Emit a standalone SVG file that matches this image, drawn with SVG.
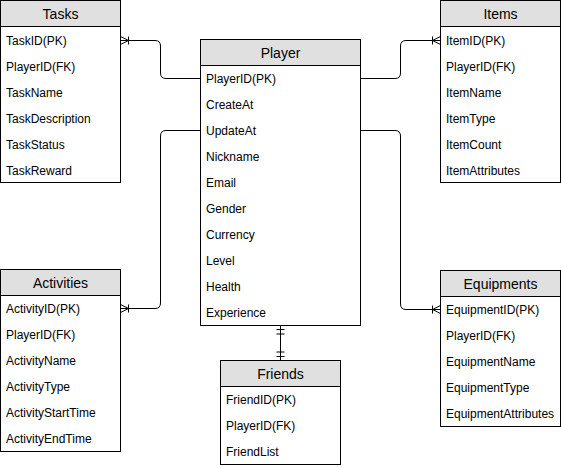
<svg xmlns="http://www.w3.org/2000/svg" width="561" height="468" viewBox="0 0 561 468">
<style>
.box{fill:#ffffff;stroke:#000000;stroke-width:1}
.hd{fill:#e0e0e0;stroke:#000000;stroke-width:1}
.t{font-family:"Liberation Sans",Arial,sans-serif;font-size:14px;fill:#000;text-anchor:middle}
.r{font-family:"Liberation Sans",Arial,sans-serif;font-size:12px;fill:#000}
.c{fill:none;stroke:#000;stroke-width:1}
</style>
<defs>
<marker id="many" markerWidth="12" markerHeight="12" refX="10" refY="6" orient="auto-start-reverse" markerUnits="userSpaceOnUse" viewBox="0 0 12 12">
<path d="M10,2 L2,6 L10,10 M2,2 L2,10" fill="none" stroke="#000" stroke-width="1"/>
</marker>
<marker id="one" markerWidth="12" markerHeight="12" refX="10" refY="6" orient="auto-start-reverse" markerUnits="userSpaceOnUse" viewBox="0 0 12 12">
<path d="M6,2 L6,10 M1.5,2 L1.5,10" fill="none" stroke="#000" stroke-width="1"/>
</marker>
</defs>
<g id="connectors">
<path class="c" d="M200.5,78.5 H166 Q160.5,78.5 160.5,73 V46 Q160.5,40.5 155,40.5 H120.5" marker-end="url(#many)"/>
<path class="c" d="M360.5,78.5 H395 Q400.5,78.5 400.5,73 V46 Q400.5,40.5 406,40.5 H440.5" marker-end="url(#many)"/>
<path class="c" d="M200.5,130.5 H166 Q160.5,130.5 160.5,136 V303 Q160.5,308.5 155,308.5 H120.5" marker-end="url(#many)"/>
<path class="c" d="M360.5,130.5 H395 Q400.5,130.5 400.5,136 V304 Q400.5,309.5 406,309.5 H440.5" marker-end="url(#many)"/>
<path class="c" d="M280.5,325.5 V360.5" marker-start="url(#one)" marker-end="url(#one)"/>
</g>
<g id="tasks">
<rect class="box" x="0.5" y="0.5" width="120" height="182"/>
<rect class="hd" x="0.5" y="0.5" width="120" height="26"/>
<text class="t" x="60.5" y="18.5">Tasks</text>
<text class="r" x="6" y="44.5">TaskID(PK)</text>
<text class="r" x="6" y="70.5">PlayerID(FK)</text>
<text class="r" x="6" y="96.5">TaskName</text>
<text class="r" x="6" y="122.5">TaskDescription</text>
<text class="r" x="6" y="148.5">TaskStatus</text>
<text class="r" x="6" y="174.5">TaskReward</text>
</g>
<g id="items">
<rect class="box" x="440.5" y="0.5" width="120" height="182"/>
<rect class="hd" x="440.5" y="0.5" width="120" height="26"/>
<text class="t" x="500.5" y="18.5">Items</text>
<text class="r" x="446" y="44.5">ItemID(PK)</text>
<text class="r" x="446" y="70.5">PlayerID(FK)</text>
<text class="r" x="446" y="96.5">ItemName</text>
<text class="r" x="446" y="122.5">ItemType</text>
<text class="r" x="446" y="148.5">ItemCount</text>
<text class="r" x="446" y="174.5">ItemAttributes</text>
</g>
<g id="player">
<rect class="box" x="200.5" y="39.5" width="160" height="286"/>
<rect class="hd" x="200.5" y="39.5" width="160" height="26"/>
<text class="t" x="280.5" y="57.5">Player</text>
<text class="r" x="206" y="82.5">PlayerID(PK)</text>
<text class="r" x="206" y="108.5">CreateAt</text>
<text class="r" x="206" y="134.5">UpdateAt</text>
<text class="r" x="206" y="160.5">Nickname</text>
<text class="r" x="206" y="186.5">Email</text>
<text class="r" x="206" y="212.5">Gender</text>
<text class="r" x="206" y="238.5">Currency</text>
<text class="r" x="206" y="264.5">Level</text>
<text class="r" x="206" y="290.5">Health</text>
<text class="r" x="206" y="316.5">Experience</text>
</g>
<g id="activities">
<rect class="box" x="0.5" y="269.5" width="120" height="182"/>
<rect class="hd" x="0.5" y="269.5" width="120" height="26"/>
<text class="t" x="60.5" y="287.5">Activities</text>
<text class="r" x="6" y="312.5">ActivityID(PK)</text>
<text class="r" x="6" y="338.5">PlayerID(FK)</text>
<text class="r" x="6" y="364.5">ActivityName</text>
<text class="r" x="6" y="390.5">ActivityType</text>
<text class="r" x="6" y="416.5">ActivityStartTime</text>
<text class="r" x="6" y="442.5">ActivityEndTime</text>
</g>
<g id="equipments">
<rect class="box" x="440.5" y="270.5" width="120" height="156"/>
<rect class="hd" x="440.5" y="270.5" width="120" height="26"/>
<text class="t" x="500.5" y="288.5">Equipments</text>
<text class="r" x="446" y="313.5">EquipmentID(PK)</text>
<text class="r" x="446" y="339.5">PlayerID(FK)</text>
<text class="r" x="446" y="365.5">EquipmentName</text>
<text class="r" x="446" y="391.5">EquipmentType</text>
<text class="r" x="446" y="417.5">EquipmentAttributes</text>
</g>
<g id="friends">
<rect class="box" x="220.5" y="360.5" width="120" height="104"/>
<rect class="hd" x="220.5" y="360.5" width="120" height="26"/>
<text class="t" x="280.5" y="378.5">Friends</text>
<text class="r" x="226" y="403.5">FriendID(PK)</text>
<text class="r" x="226" y="429.5">PlayerID(FK)</text>
<text class="r" x="226" y="455.5">FriendList</text>
</g>
</svg>
